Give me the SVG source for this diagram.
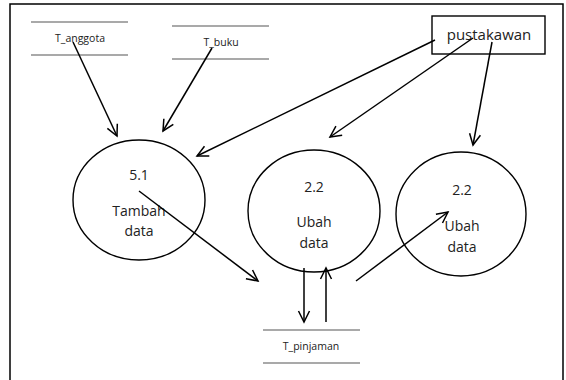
<svg xmlns="http://www.w3.org/2000/svg" width="566" height="380" viewBox="0 0 566 380">
<style>
.frame{fill:none;stroke:#000;stroke-width:1.5}
.store{stroke:#555;stroke-width:1.2}
.proc{fill:none;stroke:#000;stroke-width:1.4}
.ent{fill:#fff;stroke:#000;stroke-width:1.4}
.t{font-family:"Open Sans","Liberation Sans",sans-serif;fill:#222;text-anchor:middle}
.big{font-size:14px}
.ename{font-size:15px}
.small{font-size:10.5px}
.flow{fill:none;stroke:#000;stroke-width:1.5;marker-end:url(#ah)}
</style>
<defs>
<marker id="ah" markerUnits="userSpaceOnUse" markerWidth="16" markerHeight="16" refX="12" refY="6" orient="auto" viewBox="0 0 16 12">
<path d="M1,0.5 L12,6 L1,11.5" fill="none" stroke="#000" stroke-width="1.5"/>
</marker>
</defs>
<rect width="566" height="380" fill="#fff"/>
<path class="frame" d="M10,381 L10,4 L563,4 L563,381"/>
<g id="T_anggota">
<line class="store" x1="31" y1="22" x2="128" y2="22"/>
<line class="store" x1="31" y1="55" x2="128" y2="55"/>
<text class="t small" x="80" y="42">T_anggota</text>
</g>
<g id="T_buku">
<line class="store" x1="172" y1="26" x2="269" y2="26"/>
<line class="store" x1="172" y1="59" x2="269" y2="59"/>
<text class="t small" x="221" y="46">T_buku</text>
</g>
<g id="pustakawan">
<rect class="ent" x="432" y="16" width="113" height="38"/>
<text class="t ename" x="489" y="40">pustakawan</text>
</g>
<g id="p51">
<ellipse class="proc" cx="139" cy="200" rx="66" ry="60"/>
<text class="t big" x="139" y="180">5.1</text>
<text class="t big" x="139" y="216">Tambah</text>
<text class="t big" x="139" y="236">data</text>
</g>
<g id="p22a">
<ellipse class="proc" cx="314" cy="211" rx="66" ry="61"/>
<text class="t big" x="314" y="192">2.2</text>
<text class="t big" x="314" y="227">Ubah</text>
<text class="t big" x="314" y="248">data</text>
</g>
<g id="p22b">
<ellipse class="proc" cx="461" cy="214" rx="65" ry="62"/>
<text class="t big" x="462" y="195">2.2</text>
<text class="t big" x="462" y="231">Ubah</text>
<text class="t big" x="462" y="252">data</text>
</g>
<g id="T_pinjaman">
<line class="store" x1="263" y1="330" x2="360" y2="330"/>
<line class="store" x1="263" y1="363" x2="360" y2="363"/>
<text class="t small" x="311" y="350">T_pinjaman</text>
</g>
<g id="connectors">
<line class="flow" x1="73" y1="42" x2="117" y2="136"/>
<line class="flow" x1="212" y1="48" x2="163" y2="131"/>
<line class="flow" x1="435" y1="40" x2="197" y2="156"/>
<line class="flow" x1="473" y1="38" x2="330" y2="137"/>
<line class="flow" x1="492" y1="42" x2="473" y2="145"/>
<line class="flow" x1="139" y1="191" x2="258" y2="281"/>
<line class="flow" x1="304" y1="268" x2="304" y2="322"/>
<line class="flow" x1="326" y1="322" x2="326" y2="268"/>
<line class="flow" x1="356" y1="281" x2="448" y2="212"/>
</g>
</svg>
